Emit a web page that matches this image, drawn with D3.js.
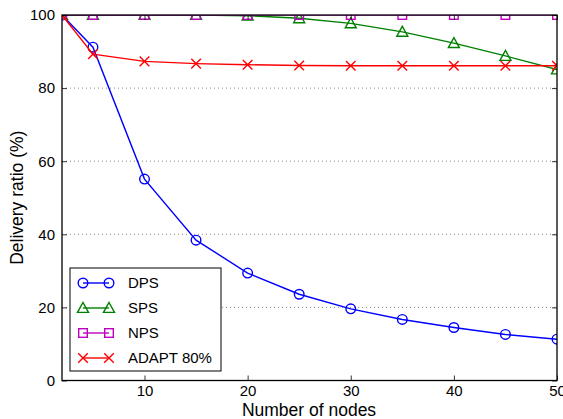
<!DOCTYPE html>
<html>
<head>
<meta charset="utf-8">
<script src="https://cdn.jsdelivr.net/npm/d3@7.9.0/dist/d3.min.js"></script>
<style>
  body { margin: 0; background: #fff; }
  svg { font-family: "Liberation Sans", Arial, sans-serif; }
</style>
</head>
<body>
<svg id="chart" width="563" height="419"></svg>
<script>
// data
const nodes = [2, 5, 10, 15, 20, 25, 30, 35, 40, 45, 50];
const dps   = [100, 91.2, 55.1, 38.4, 29.4, 23.6, 19.6, 16.7, 14.5, 12.6, 11.3];
const sps   = [100, 100, 100, 100, 99.8, 99.1, 97.7, 95.4, 92.3, 88.8, 85.1];
const nps   = [100, 100, 100, 100, 100, 100, 100, 100, 100, 100, 100];
const adapt = [100, 89.3, 87.3, 86.7, 86.4, 86.2, 86.1, 86.1, 86.1, 86.1, 86.1];
const xTicks = [10, 20, 30, 40, 50];
const yTicks = [0, 20, 40, 60, 80, 100];

const series = [
  { name: 'DPS', values: dps, color: '#0000ff', marker: 'circle' },
  { name: 'SPS', values: sps, color: '#008000', marker: 'triangle' },
  { name: 'NPS', values: nps, color: '#bf00bf', marker: 'square' },
  { name: 'ADAPT 80%', values: adapt, color: '#ff0000', marker: 'cross' }
];

const svg = d3.select('#chart');
const pLeft = 62, pRight = 557, pTop = 15, pBottom = 380.5;

const x = d3.scaleLinear().domain([2, 50]).range([pLeft, pRight]);
const y = d3.scaleLinear().domain([0, 100]).range([pBottom, pTop]);

// dotted grid
svg.append('g')
  .selectAll('line')
  .data(yTicks.filter(d => d > 0 && d < 100))
  .join('line')
  .attr('x1', pLeft).attr('x2', pRight)
  .attr('y1', d => y(d)).attr('y2', d => y(d))
  .attr('stroke', '#888')
  .attr('stroke-width', 1)
  .attr('stroke-dasharray', '1,3');

svg.append('defs').append('clipPath').attr('id', 'clip')
  .append('rect')
  .attr('x', pLeft).attr('y', pTop)
  .attr('width', pRight - pLeft).attr('height', pBottom - pTop);

function drawMarker(g, type, cx, cy, color) {
  if (type === 'circle') {
    g.append('circle').attr('cx', cx).attr('cy', cy).attr('r', 4.8)
      .attr('fill', 'none').attr('stroke', color).attr('stroke-width', 1.4);
  } else if (type === 'triangle') {
    const s = 5.5;
    g.append('path')
      .attr('d', `M${cx},${cy - s} L${cx + s},${cy + s * 0.8} L${cx - s},${cy + s * 0.8} Z`)
      .attr('fill', 'none').attr('stroke', color).attr('stroke-width', 1.4);
  } else if (type === 'square') {
    g.append('rect').attr('x', cx - 4.3).attr('y', cy - 4.3)
      .attr('width', 8.6).attr('height', 8.6)
      .attr('fill', 'none').attr('stroke', color).attr('stroke-width', 1.4);
  } else {
    const s = 4.8;
    g.append('path')
      .attr('d', `M${cx - s},${cy - s} L${cx + s},${cy + s} M${cx - s},${cy + s} L${cx + s},${cy - s}`)
      .attr('stroke', color).attr('stroke-width', 1.4);
  }
}

const plot = svg.append('g').attr('clip-path', 'url(#clip)');
const line = d3.line()
  .x((d, i) => x(nodes[i]))
  .y(d => y(d));

series.forEach(s => {
  plot.append('path')
    .datum(s.values)
    .attr('d', line)
    .attr('fill', 'none')
    .attr('stroke', s.color)
    .attr('stroke-width', 1.4);
  s.values.forEach((v, i) => drawMarker(plot, s.marker, x(nodes[i]), y(v), s.color));
});

// axes: ticks pointing inward, on all four sides
const xb = svg.append('g').attr('transform', `translate(0,${pBottom})`)
  .call(d3.axisBottom(x).tickValues(xTicks).tickSizeInner(-5).tickSizeOuter(0).tickPadding(5));
const xt = svg.append('g').attr('transform', `translate(0,${pTop})`)
  .call(d3.axisTop(x).tickValues(xTicks).tickSizeInner(-5).tickSizeOuter(0).tickFormat(''));
const yl = svg.append('g').attr('transform', `translate(${pLeft},0)`)
  .call(d3.axisLeft(y).tickValues(yTicks).tickSizeInner(-5).tickSizeOuter(0).tickPadding(7));
const yr = svg.append('g').attr('transform', `translate(${pRight},0)`)
  .call(d3.axisRight(y).tickValues(yTicks).tickSizeInner(-5).tickSizeOuter(0).tickFormat(''));

[xb, xt, yl, yr].forEach(a => {
  a.select('.domain').remove();
  a.selectAll('line').attr('stroke', '#000').attr('stroke-width', 0.8);
  a.selectAll('text').attr('font-size', 15).attr('fill', '#000')
    .attr('font-family', '"Liberation Sans", Arial, sans-serif');
});

svg.append('rect')
  .attr('x', pLeft).attr('y', pTop)
  .attr('width', pRight - pLeft).attr('height', pBottom - pTop)
  .attr('fill', 'none').attr('stroke', '#000').attr('stroke-width', 1.3);

svg.append('text')
  .attr('x', 309).attr('y', 416)
  .attr('text-anchor', 'middle')
  .attr('font-size', 17.5)
  .text('Number of nodes');

svg.append('text')
  .attr('transform', `translate(23,${(pTop + pBottom) / 2}) rotate(-90)`)
  .attr('text-anchor', 'middle')
  .attr('font-size', 17.5)
  .text('Delivery ratio (%)');

// legend
const lg = svg.append('g');
lg.append('rect')
  .attr('x', 70).attr('y', 268).attr('width', 151).attr('height', 103)
  .attr('fill', '#fff').attr('stroke', '#000').attr('stroke-width', 1);
series.forEach((s, i) => {
  const ly = 283 + i * 25;
  lg.append('line')
    .attr('x1', 83).attr('x2', 109).attr('y1', ly).attr('y2', ly)
    .attr('stroke', s.color).attr('stroke-width', 1.4);
  drawMarker(lg, s.marker, 83, ly, s.color);
  drawMarker(lg, s.marker, 109, ly, s.color);
  lg.append('text')
    .attr('x', 128).attr('y', ly).attr('dy', '0.36em')
    .attr('font-size', 15)
    .text(s.name);
});
</script>
</body>
</html>
